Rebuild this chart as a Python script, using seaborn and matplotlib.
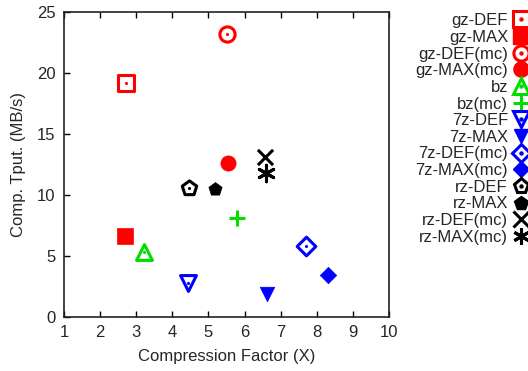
import matplotlib
matplotlib.use("Agg")
import matplotlib.pyplot as plt
import seaborn as sns
import pandas as pd
from matplotlib.lines import Line2D

sns.set_theme(style="white")
plt.rcParams['font.family'] = ['Liberation Sans', 'DejaVu Sans']

labels = ["gz-DEF", "gz-MAX", "gz-DEF(mc)", "gz-MAX(mc)", "bz", "bz(mc)",
          "7z-DEF", "7z-MAX", "7z-DEF(mc)", "7z-MAX(mc)",
          "rz-DEF", "rz-MAX", "rz-DEF(mc)", "rz-MAX(mc)"]
factor = [2.72, 2.70, 5.52, 5.55, 3.22, 5.78, 4.44, 6.63, 7.69, 8.30, 4.46, 5.18, 6.57, 6.60]
tput = [19.2, 6.6, 23.2, 12.6, 5.3, 8.1, 2.8, 1.9, 5.8, 3.45, 10.55, 10.5, 13.1, 11.8]
colors = ["#ff0000", "#ff0000", "#ff0000", "#ff0000", "#00dd00", "#00dd00",
          "#0000ff", "#0000ff", "#0000ff", "#0000ff",
          "#000000", "#000000", "#000000", "#000000"]
markers = ["s", "s", "o", "o", "^", "+", "v", "v", "D", "D", "p", "p", "x", "*"]
hollow = [True, False, True, False, True, False, True, False, True, False, True, False, False, False]
sizes = [130, 130, 120, 120, 130, 130, 130, 110, 90, 70, 120, 100, 120, 140]
x_ticks = list(range(1, 11))
y_ticks = [0, 5, 10, 15, 20, 25]

df = pd.DataFrame({"label": labels, "factor": factor, "tput": tput})

fig = plt.figure(figsize=(5.28, 3.71), dpi=100)
ax = fig.add_axes([64/528, 1 - 317/371, (389-64)/528, (317-12)/371])

handles = []
for i, lab in enumerate(labels):
    sub = df[df["label"] == lab]
    c = colors[i]
    m = markers[i]
    ms = (sizes[i]) ** 0.5
    if m in ("+", "x"):
        sns.scatterplot(data=sub, x="factor", y="tput", ax=ax, marker=m, s=sizes[i],
                        color=c, linewidth=2.2, legend=False)
        h = Line2D([], [], marker=m, color=c, linestyle="none", markersize=ms, markeredgewidth=2.2)
    elif m == "*":
        sns.scatterplot(data=sub, x="factor", y="tput", ax=ax, marker=(6, 2, 0), s=sizes[i],
                        color=c, linewidth=2.2, legend=False)
        h = Line2D([], [], marker=(6, 2, 0), color=c, linestyle="none", markersize=ms, markeredgewidth=2.2)
    elif hollow[i]:
        sns.scatterplot(data=sub, x="factor", y="tput", ax=ax, marker=m, s=sizes[i],
                        facecolor="white", edgecolor=c, linewidth=2.2, legend=False)
        sns.scatterplot(data=sub, x="factor", y="tput", ax=ax, marker="o", s=5,
                        color=c, linewidth=0, legend=False)
        h1 = Line2D([], [], marker=m, markerfacecolor="white", markeredgecolor=c,
                    linestyle="none", markersize=ms, markeredgewidth=2.2)
        h2 = Line2D([], [], marker="o", color=c, linestyle="none", markersize=2.2)
        h = (h1, h2)
    else:
        sns.scatterplot(data=sub, x="factor", y="tput", ax=ax, marker=m, s=sizes[i],
                        color=c, edgecolor=c, linewidth=0.5, legend=False)
        h = Line2D([], [], marker=m, color=c, linestyle="none", markersize=ms)
    handles.append(h)

ax.set_xlim(1, 10)
ax.set_ylim(0, 25)
ax.set_xticks(x_ticks)
ax.set_yticks(y_ticks)
ax.set_xticklabels([str(v) for v in x_ticks], fontsize=12)
ax.set_yticklabels([str(v) for v in y_ticks], fontsize=12)
ax.set_xlabel("Compression Factor (X)", fontsize=12, labelpad=6)
ax.set_ylabel("Comp. Tput. (MB/s)", fontsize=12, labelpad=8)
ax.tick_params(axis="both", direction="in", length=4, width=1, color="black",
               top=True, bottom=True, left=True, right=False, labeltop=False, pad=6)
for sp in ax.spines.values():
    sp.set_visible(True)
    sp.set_color("#222222")
    sp.set_linewidth(1.2)
ax.grid(False)

leg = fig.legend(handles, labels, loc="upper right",
                 bbox_to_anchor=(1.0 + 5/528, 1.0 - 9/371),
                 frameon=False, markerfirst=False, fontsize=12, labelspacing=0.1,
                 handlelength=0.9, handletextpad=0.35, borderaxespad=0.0,
                 borderpad=0.25)
for t in leg.get_texts():
    t.set_ha("right")
leg._legend_box.align = "right"

fig.savefig("out.png", dpi=100)
